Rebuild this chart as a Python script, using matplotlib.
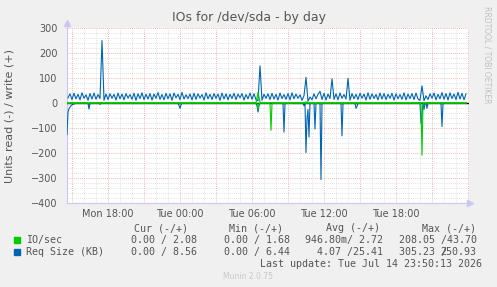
import numpy as np
import pandas as pd
import matplotlib
matplotlib.use('Agg')
import matplotlib.pyplot as plt
import matplotlib.dates as mdates
from matplotlib.ticker import MultipleLocator, FuncFormatter

# ── data ──
LAST = pd.Timestamp('2026-07-14 23:50')
t10 = pd.date_range(end=LAST, periods=200, freq='10min')   # write side
t5 = pd.date_range(end=LAST, periods=400, freq='5min')     # read side (sparse spikes)

req_write = [
    22, 38, 15, 40, 18, 36, 14, 42, 20, 34, 12, 39, 17, 41, 16, 35, 19, 250.93, 12, 37,
    15, 38, 20, 36, 13, 41, 18, 37, 14, 39, 21, 35, 16, 40, 12, 38, 19, 42, 15, 36,
    17, 39, 13, 37, 20, 43, 16, 35, 14, 40, 18, 38, 12, 41, 22, 36, 15, 44, 17, 34,
    19, 37, 14, 40, 16, 38, 21, 35, 13, 42, 18, 36, 15, 39, 20, 37, 12, 41, 17, 38,
    14, 36, 19, 40, 15, 37, 22, 39, 13, 35, 18, 41, 16, 38, 14, 10, 150, 12, 36, 20,
    38, 15, 40, 17, 36, 13, 41, 19, 35, 16, 39, 14, 42, 18, 37, 20, 34, 12, 30, 104,
    8, 25, 14, 38, 18, 36, 48, 15, 40, 13, 37, 19, 98, 16, 38, 14, 41, 20, 35, 17,
    100, 12, 39, 18, 36, 15, 40, 20, 37, 13, 42, 16, 38, 19, 35, 14, 41, 17, 39, 15,
    36, 20, 40, 13, 38, 18, 35, 16, 42, 14, 37, 19, 39, 15, 41, 17, 12, 70, 10, 30,
    15, 38, 20, 41, 14, 36, 18, 43, 16, 39, 13, 42, 19, 37, 15, 44, 17, 40, 14, 38,
]
io_write = [
    2.1, 2.4, 1.9, 2.6, 2.2, 2.8, 2.0, 2.5, 2.3, 2.7, 1.8, 2.4, 2.2, 2.9, 2.1, 2.5, 2.3, 3.5, 2.0, 2.6,
    2.2, 2.4, 2.0, 2.7, 2.3, 2.5, 1.9, 2.6, 2.1, 2.8, 2.2, 2.4, 2.0, 2.5, 2.3, 2.7, 2.1, 2.6, 2.2, 2.4,
    2.0, 2.5, 2.3, 2.8, 2.1, 2.6, 2.2, 2.4, 1.9, 2.7, 2.3, 2.5, 2.0, 2.6, 2.2, 2.8, 2.1, 2.4, 2.3, 2.5,
    2.0, 2.7, 2.2, 2.4, 2.1, 2.6, 2.3, 2.5, 1.9, 2.8, 2.2, 2.4, 2.0, 2.6, 2.3, 2.5, 2.1, 2.7, 2.2, 2.4,
    2.0, 2.6, 2.3, 2.5, 2.1, 2.8, 2.2, 2.4, 1.9, 2.7, 2.3, 2.5, 2.0, 2.6, 2.2, 43.70, 4.5, 2.4, 2.1, 2.6,
    2.3, 2.5, 2.0, 2.7, 2.2, 2.4, 2.1, 2.8, 2.3, 2.5, 1.9, 2.6, 2.2, 2.4, 2.0, 2.7, 2.3, 2.5, 2.8, 6.0,
    2.5, 2.2, 2.4, 2.0, 2.6, 2.3, 2.5, 2.1, 2.8, 2.2, 2.4, 2.0, 3.5, 2.3, 2.5, 2.1, 2.7, 2.2, 2.4, 2.0,
    3.2, 2.3, 2.5, 2.1, 2.8, 2.2, 2.4, 1.9, 2.6, 2.3, 2.5, 2.0, 2.7, 2.2, 2.4, 2.1, 2.6, 2.3, 2.5, 2.0,
    2.8, 2.2, 2.4, 2.1, 2.6, 2.3, 2.5, 2.0, 2.7, 2.2, 2.4, 2.1, 2.6, 2.3, 2.5, 2.0, 2.4, 3.0, 2.2, 2.5,
    2.1, 2.7, 2.2, 2.4, 2.0, 2.6, 2.3, 2.5, 2.1, 2.8, 2.2, 2.4, 2.0, 2.6, 2.3, 2.5, 2.1, 2.7, 2.2, 2.08,
]
# read side: index into t5 -> value (everything else is 0)
req_read_idx = [0, 1, 2, 3, 4, 5, 6, 7, 22, 33, 112, 113, 114, 190, 191, 192, 217, 237,
                239, 240, 241, 242, 248, 254, 275, 289, 290, 354, 355, 357, 360, 375]
req_read_val = [-125, -35, -22, -15, -10, -6, -4, -3, -23, -4, -8, -20, -6, -10, -35, -8, -115, -10,
                -197, -60, -25, -135, -103, -305.23, -130, -20, -12, -80, -45, -25, -20, -93]
io_read_idx = [191, 204, 355]
io_read_val = [-25, -108, -208.05]

xticks = ['2026-07-13 18:00', '2026-07-14 00:00', '2026-07-14 06:00',
          '2026-07-14 12:00', '2026-07-14 18:00']

GREEN = '#00cc00'
BLUE = '#0066b3'
TXT = '#555555'

req_read = np.zeros(len(t5)); req_read[req_read_idx] = req_read_val
io_read = np.zeros(len(t5)); io_read[io_read_idx] = io_read_val

fig = plt.figure(figsize=(4.97, 2.87), dpi=100, facecolor='#f0f0f0')
ax = fig.add_axes([67 / 497, 1 - 203.3 / 287, 402 / 497, 175 / 287], facecolor='white')

lw = 0.8
ax.plot(t5, req_read, color=BLUE, lw=lw, zorder=3)
ax.plot(t10, req_write, color=BLUE, lw=lw, zorder=3)
ax.axhline(0, color='black', lw=1.0, zorder=4)
ax.plot(t5, io_read, color=GREEN, lw=lw, zorder=5)
ax.plot(t10, io_write, color=GREEN, lw=lw, zorder=5)

ax.set_xlim(t5[0], pd.Timestamp('2026-07-15 00:05'))
ax.set_ylim(-400, 300)

# grid: red major, gray minor, dotted like rrdtool
ax.yaxis.set_major_locator(MultipleLocator(100))
ax.yaxis.set_minor_locator(MultipleLocator(20))
ax.xaxis.set_major_locator(mdates.HourLocator(byhour=range(0, 24, 3)))
ax.xaxis.set_minor_locator(mdates.HourLocator())
lab = set(pd.to_datetime(xticks))
ax.xaxis.set_major_formatter(FuncFormatter(
    lambda v, p: mdates.num2date(v).strftime('%a %H:%M')
    if pd.Timestamp(mdates.num2date(v)).tz_localize(None) in lab else ''))
ax.grid(which='minor', color='#d8d8d8', ls=(0, (1, 1.5)), lw=0.6, zorder=1)
ax.grid(which='major', color='#eaa0a0', ls=(0, (1, 1.5)), lw=0.6, zorder=2)
ax.set_axisbelow(True)

ax.tick_params(which='both', length=0, colors=TXT, labelsize=7)
ax.tick_params(axis='y', pad=7)
ax.tick_params(axis='x', pad=4)
for s in ['top', 'right']:
    ax.spines[s].set_visible(False)
for s in ['left', 'bottom']:
    ax.spines[s].set_color('#c8c8f0')
    ax.spines[s].set_linewidth(0.8)
# axis arrows
ax.plot([0], [1.03], marker='^', ms=4, color='#c8c8f0', transform=ax.transAxes, clip_on=False)
ax.plot([0, 0], [1.0, 1.03], color='#c8c8f0', lw=0.8, transform=ax.transAxes, clip_on=False)
ax.plot([1.003], [0], marker='>', ms=4, color='#c8c8f0', transform=ax.transAxes, clip_on=False)

fig.text(10 / 497, 1 - 116 / 287, 'Units read (-) / write (+)', rotation=90, ha='center',
         va='center', color=TXT, fontsize=8)
fig.text(0.5, 1 - 18 / 287, 'IOs for /dev/sda - by day', ha='center', va='center',
         fontsize=9, color=TXT)
fig.text(487 / 497, 1 - 55 / 287, 'RRDTOOL / TOBI OETIKER', rotation=-90, ha='center',
         va='center', fontsize=5.5, color='#c0c0c0')

# ── legend block (monospace, rrdtool style) ──
mono = dict(family='DejaVu Sans Mono', fontsize=7.2, color=TXT, va='center')
def ty(y):
    return 1 - y / 287
def tx(x):
    return x / 497

for x, s in [(187.7, 'Cur (-/+)'), (283, 'Min (-/+)'), (380, 'Avg (-/+)'), (475.7, 'Max (-/+)')]:
    fig.text(tx(x), ty(228.3), s, ha='right', **mono)

rows = [
    (239.7, GREEN, 'IO/sec', ['0.00 / 2.08', '0.00 / 1.68', '946.80m/ 2.72', '208.05 /43.70']),
    (251.7, BLUE, 'Req Size (KB)', ['0.00 / 8.56', '0.00 / 6.44', '4.07 /25.41', None]),
]
for y, c, name, vals in rows:
    fig.patches.append(plt.Rectangle((tx(14), ty(y + 3)), 6 / 497, 6 / 287,
                                     transform=fig.transFigure, color=c))
    fig.text(tx(26.3), ty(y), name, ha='left', **mono)
    for x, v in zip([196.7, 290, 383.3, 476.7], vals):
        if v is not None:
            fig.text(tx(x), ty(y), v, ha='right', **mono)
# rrdtool overprints the last max value onto the separator
fig.text(tx(447), ty(251.7), '305.23 /', ha='right', **mono)
fig.text(tx(476.7), ty(251.7), '250.93', ha='right', **mono)

fig.text(tx(482), ty(264), 'Last update: Tue Jul 14 23:50:13 2026', ha='right', **mono)
fig.text(tx(248), ty(276.7), 'Munin 2.0.75', ha='center', va='center', fontsize=5.5,
         color='#c8c8c8')

fig.savefig('out.png', dpi=100, facecolor=fig.get_facecolor())
